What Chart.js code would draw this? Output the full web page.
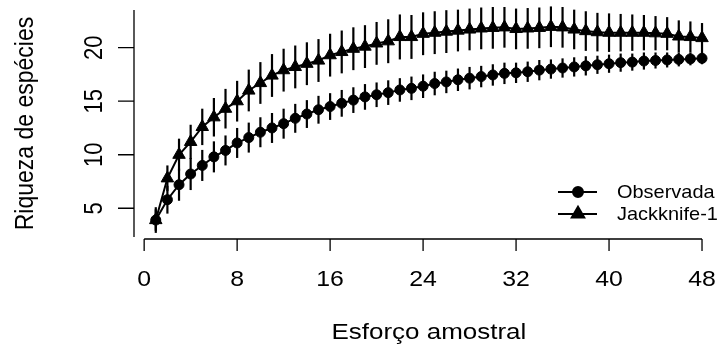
<!DOCTYPE html>
<html>
<head>
<meta charset="utf-8">
<script src="https://cdn.jsdelivr.net/npm/chart.js@4/dist/chart.umd.min.js"></script>
<style>
  html, body { margin: 0; padding: 0; background: #fff; }
  canvas { display: block; }
</style>
</head>
<body>
<canvas id="grafico" width="727" height="347"></canvas>
<script>
// esforço amostral (eixo x)
var esforco = [1, 2, 3, 4, 5, 6, 7, 8, 9, 10, 11, 12, 13, 14, 15, 16, 17, 18, 19, 20, 21, 22, 23, 24,
               25, 26, 27, 28, 29, 30, 31, 32, 33, 34, 35, 36, 37, 38, 39, 40, 41, 42, 43, 44, 45, 46, 47, 48];
// riqueza observada e desvio
var observada = [3.9, 5.8, 7.2, 8.2, 9.0, 9.8, 10.4, 11.1, 11.6, 12.1, 12.5, 12.9, 13.4, 13.8, 14.2, 14.5,
                 14.8, 15.1, 15.4, 15.6, 15.8, 16.05, 16.2, 16.4, 16.65, 16.8, 17.0, 17.15, 17.3, 17.45, 17.6, 17.65,
                 17.75, 17.9, 18.0, 18.1, 18.2, 18.3, 18.4, 18.5, 18.6, 18.65, 18.75, 18.8, 18.85, 18.9, 18.95, 19.0];
var observadaDp = [1.2, 1.3, 1.5, 1.5, 1.45, 1.45, 1.4, 1.4, 1.4, 1.4, 1.4, 1.4, 1.35, 1.3, 1.3, 1.25,
                   1.25, 1.2, 1.2, 1.15, 1.15, 1.1, 1.1, 1.1, 1.1, 1.05, 1.05, 1.05, 1.0, 1.0, 1.0, 0.95,
                   0.95, 0.95, 0.9, 0.9, 0.9, 0.9, 0.85, 0.85, 0.85, 0.8, 0.8, 0.75, 0.7, 0.65, 0.6, 0.55];
// estimador Jackknife-1 e desvio
var jackknife = [3.9, 7.8, 10.0, 11.2, 12.6, 13.5, 14.3, 15.0, 16.0, 16.7, 17.4, 17.9, 18.2, 18.5, 18.8, 19.3,
                 19.6, 19.9, 20.1, 20.4, 20.6, 21.0, 21.0, 21.3, 21.4, 21.5, 21.6, 21.7, 21.8, 21.85, 21.9, 21.75,
                 21.8, 21.85, 21.95, 21.9, 21.7, 21.55, 21.45, 21.4, 21.4, 21.4, 21.4, 21.35, 21.3, 21.05, 21.0, 20.9];
var jackknifeDp = [1.0, 1.2, 1.5, 1.6, 1.7, 1.8, 1.85, 1.9, 1.95, 1.95, 2.0, 2.0, 2.0, 2.0, 2.0, 2.0,
                   2.0, 2.0, 2.0, 2.0, 2.05, 2.1, 2.05, 2.0, 2.0, 2.0, 1.95, 1.95, 1.95, 1.95, 1.9, 1.9,
                   1.9, 1.9, 1.9, 1.9, 1.85, 1.85, 1.8, 1.8, 1.75, 1.7, 1.65, 1.6, 1.55, 1.5, 1.45, 1.4];
var ticksX = [0, 8, 16, 24, 32, 40, 48];
var ticksY = [5, 10, 15, 20];
var nomes = ['Observada', 'Jackknife-1'];
var tituloX = 'Esforço amostral';
var tituloY = 'Riqueza de espécies';

var FONTE = '"Liberation Sans", Arial, sans-serif';

// pares {x, y} para o Chart.js
function pares(ys) {
    return esforco.map(function (x, i) { return { x: x, y: ys[i] }; });
}

// texto levemente alargado na horizontal (a figura original foi esticada)
function texto(ctx, s, x, y, tam, esticar, rot, alinh, base) {
    ctx.save();
    ctx.translate(x, y);
    ctx.scale(esticar, 1);
    if (rot) ctx.rotate(rot);
    ctx.font = tam + 'px ' + FONTE;
    ctx.fillStyle = '#000';
    ctx.textAlign = alinh;
    ctx.textBaseline = base;
    ctx.fillText(s, 0, 0);
    ctx.restore();
}

// barras de erro (média ± desvio)
var barrasErro = {
    id: 'barrasErro',
    afterDatasetsDraw: function (chart) {
        var ctx = chart.ctx, sx = chart.scales.x, sy = chart.scales.y;
        var dps = [observadaDp, jackknifeDp];
        ctx.save();
        ctx.strokeStyle = '#000';
        ctx.lineWidth = 2.2;
        chart.data.datasets.forEach(function (ds, k) {
            ds.data.forEach(function (p, i) {
                var px = sx.getPixelForValue(p.x);
                ctx.beginPath();
                ctx.moveTo(px, sy.getPixelForValue(p.y - dps[k][i]));
                ctx.lineTo(px, sy.getPixelForValue(p.y + dps[k][i]));
                ctx.stroke();
            });
        });
        ctx.restore();
    }
};

// eixos no estilo do R, títulos e legenda
var eixosR = {
    id: 'eixosR',
    afterDraw: function (chart) {
        var ctx = chart.ctx, a = chart.chartArea, sx = chart.scales.x, sy = chart.scales.y;
        var yx = a.bottom + 2;
        ctx.save();
        ctx.strokeStyle = '#000';
        ctx.lineWidth = 1.3;
        ctx.beginPath();
        ctx.moveTo(sx.getPixelForValue(ticksX[0]), yx);
        ctx.lineTo(sx.getPixelForValue(ticksX[ticksX.length - 1]), yx);
        ticksX.forEach(function (t) {
            var p = sx.getPixelForValue(t);
            ctx.moveTo(p, yx);
            ctx.lineTo(p, yx + 12);
        });
        ctx.moveTo(a.left, a.top);
        ctx.lineTo(a.left, a.bottom);
        ticksY.forEach(function (t) {
            var p = sy.getPixelForValue(t);
            ctx.moveTo(a.left, p);
            ctx.lineTo(a.left - 16, p);
        });
        ctx.stroke();
        ctx.restore();

        ticksX.forEach(function (t) {
            texto(ctx, String(t), sx.getPixelForValue(t), yx + 47, 22, 1.13, 0, 'center', 'alphabetic');
        });
        ticksY.forEach(function (t) {
            texto(ctx, String(t), a.left - 32, sy.getPixelForValue(t), 22, 1.13, -Math.PI / 2, 'center', 'alphabetic');
        });
        var meioX = sx.getPixelForValue((esforco[0] + esforco[esforco.length - 1]) / 2);
        texto(ctx, tituloX, meioX, 339, 22, 1.18, 0, 'center', 'alphabetic');
        texto(ctx, tituloY, 33, (a.top + a.bottom) / 2, 23, 1.09, -Math.PI / 2, 'center', 'alphabetic');

        // legenda
        var estilos = ['circle', 'triangle'];
        var raios = [5, 7.2];
        [192, 214].forEach(function (yl, k) {
            ctx.save();
            ctx.strokeStyle = '#000';
            ctx.lineWidth = 2;
            ctx.beginPath();
            ctx.moveTo(558, yl);
            ctx.lineTo(597, yl);
            ctx.stroke();
            ctx.fillStyle = '#000';
            Chart.helpers.drawPoint(ctx, { pointStyle: estilos[k], radius: raios[k], borderWidth: 1, rotation: 0 }, 578, yl);
            ctx.fill();
            ctx.restore();
            texto(ctx, nomes[k], 617, yl + 1, 19, 1.05, 0, 'left', 'middle');
        });
    }
};

var config = {
    type: 'line',
    data: {
        datasets: [{
            label: nomes[0],
            data: pares(observada),
            borderColor: '#000',
            borderWidth: 2,
            pointStyle: 'circle',
            pointRadius: 5,
            pointBackgroundColor: '#000',
            pointBorderColor: '#000',
            pointBorderWidth: 1,
            tension: 0,
            clip: false
        }, {
            label: nomes[1],
            data: pares(jackknife),
            borderColor: '#000',
            borderWidth: 2,
            pointStyle: 'triangle',
            pointRadius: 7.2,
            pointBackgroundColor: '#000',
            pointBorderColor: '#000',
            pointBorderWidth: 1,
            tension: 0,
            clip: false
        }]
    },
    options: {
        responsive: false,
        animation: false,
        devicePixelRatio: 1,
        layout: { padding: { left: 134, right: 0, top: 10, bottom: 110 } },
        plugins: { legend: { display: false }, tooltip: { enabled: false } },
        scales: {
            x: { type: 'linear', min: -0.874, max: 49.444, display: false },
            y: { type: 'linear', min: 2.316, max: 23.517, display: false }
        }
    },
    plugins: [barrasErro, eixosR]
};

new Chart(document.getElementById('grafico').getContext('2d'), config);
</script>
</body>
</html>
